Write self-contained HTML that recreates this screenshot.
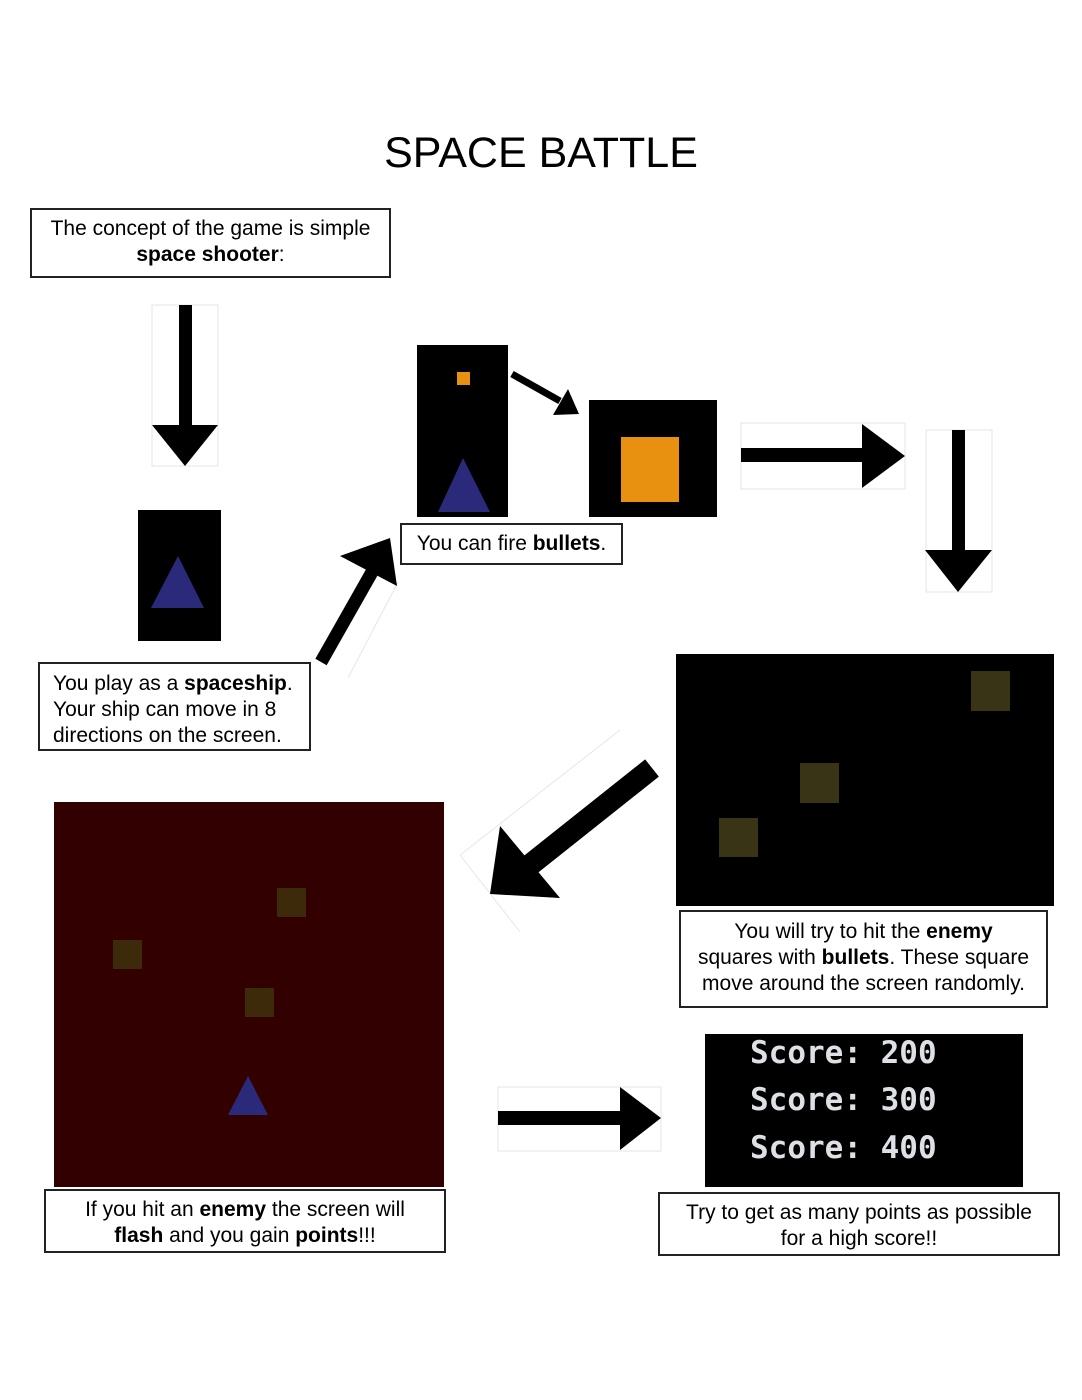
<!DOCTYPE html>
<html><head><meta charset="utf-8"><style>
body{margin:0;background:#fff;}
#p{position:relative;width:1082px;height:1400px;overflow:hidden;font-family:"Liberation Sans",sans-serif;color:#000;}
.a{position:absolute;}
.box{position:absolute;border:2px solid #222;box-sizing:border-box;font-size:21px;line-height:26px;text-align:center;background:#fff;white-space:nowrap;}
.blk{position:absolute;background:#000;}
.sc{position:absolute;left:750px;font-family:"DejaVu Sans Mono","Liberation Mono",monospace;font-size:31px;font-weight:bold;color:#dde0e4;}
</style></head><body><div id="p">
<div class="a" style="left:0;width:1082px;top:127px;text-align:center;font-size:43px;line-height:52px;">SPACE BATTLE</div>

<div class="box" style="left:30px;top:208px;width:361px;height:70px;padding-top:6px;">The concept of the game is simple<br><b>space shooter</b>:</div>

<div class="blk" style="left:138px;top:510px;width:83px;height:131px;"></div>
<div class="box" style="left:38px;top:662px;width:273px;height:89px;text-align:left;padding:7px 0 0 13px;">You play as a <b>spaceship</b>.<br>Your ship can move in 8<br>directions on the screen.</div>

<div class="blk" style="left:417px;top:345px;width:91px;height:172px;"></div>
<div class="a" style="left:457px;top:372px;width:13px;height:13px;background:#e8900f;"></div>
<div class="box" style="left:400px;top:523px;width:223px;height:42px;padding-top:6px;">You can fire <b>bullets</b>.</div>

<div class="blk" style="left:589px;top:400px;width:128px;height:117px;"></div>
<div class="a" style="left:621px;top:437px;width:58px;height:65px;background:#e8900f;"></div>

<div class="blk" style="left:676px;top:654px;width:378px;height:252px;"></div>
<div class="a" style="left:971px;top:671px;width:39px;height:40px;background:#3a3417;"></div>
<div class="a" style="left:800px;top:763px;width:39px;height:40px;background:#3a3417;"></div>
<div class="a" style="left:719px;top:818px;width:39px;height:39px;background:#3a3417;"></div>
<div class="box" style="left:679px;top:910px;width:369px;height:98px;padding-top:7px;">You will try to hit the <b>enemy</b><br>squares with <b>bullets</b>. These square<br>move around the screen randomly.</div>

<div class="a" style="left:54px;top:802px;width:390px;height:385px;background:#330000;"></div>
<div class="a" style="left:277px;top:888px;width:29px;height:29px;background:#3c2a0a;"></div>
<div class="a" style="left:113px;top:940px;width:29px;height:29px;background:#3c2a0a;"></div>
<div class="a" style="left:245px;top:988px;width:29px;height:29px;background:#3c2a0a;"></div>
<div class="box" style="left:44px;top:1189px;width:402px;height:64px;padding-top:6px;">If you hit an <b>enemy</b> the screen will<br><b>flash</b> and you gain <b>points</b>!!!</div>

<div class="blk" style="left:705px;top:1034px;width:318px;height:153px;"></div>
<div class="sc" style="top:1035px;">Score: 200</div>
<div class="sc" style="top:1082px;">Score: 300</div>
<div class="sc" style="top:1130px;">Score: 400</div>
<div class="box" style="left:658px;top:1192px;width:402px;height:64px;padding-top:6px;">Try to get as many points as possible<br>for a high score!!</div>

<svg class="a" style="left:0;top:0" width="1082" height="1400">
<polygon points="178,556 151,608 204,608" fill="#2b2a7a"/>
<polygon points="463,458 438,512 490,512" fill="#2b2a7a"/>
<polygon points="248,1076 228,1115 268,1115" fill="#2b2a7a"/>
<g fill="none" stroke="#e6e6e6" stroke-width="1">
<rect x="152" y="305" width="66" height="161"/>
<rect x="741" y="423" width="164" height="66"/>
<rect x="926" y="430" width="66" height="162"/>
<rect x="498" y="1087" width="163" height="64"/>
<line x1="348" y1="678" x2="398" y2="582"/>
<line x1="460" y1="855" x2="620" y2="730"/>
<line x1="460" y1="855" x2="520" y2="932"/>
</g>
<rect x="179" y="305" width="13" height="122" fill="#000"/>
<polygon points="152,425 218,425 185,466" fill="#000"/>
<line x1="321" y1="662" x2="372" y2="572" stroke="#000" stroke-width="13"/>
<polygon points="390,538 340,556 397,586" fill="#000"/>
<line x1="512" y1="374" x2="560" y2="401" stroke="#000" stroke-width="7"/>
<polygon points="579,414 553,415 568,389" fill="#000"/>
<rect x="741" y="448" width="123" height="14" fill="#000"/>
<polygon points="862,424 862,488 905,456" fill="#000"/>
<rect x="952" y="430" width="13" height="122" fill="#000"/>
<polygon points="925,550 992,550 958,592" fill="#000"/>
<line x1="652" y1="768" x2="530" y2="865" stroke="#000" stroke-width="22"/>
<polygon points="490,894 500,826 560,898" fill="#000"/>
<rect x="498" y="1111" width="124" height="14" fill="#000"/>
<polygon points="620,1087 620,1150 661,1118" fill="#000"/>
</svg>
</div></body></html>
